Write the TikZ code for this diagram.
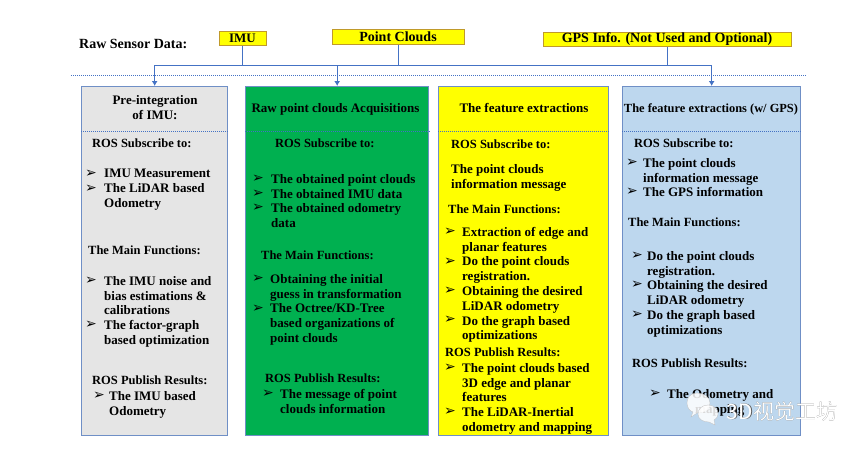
\documentclass[tikz,border=0pt]{standalone}
\usepackage{fontspec}
\usetikzlibrary{arrows.meta}
\setmainfont{Liberation Serif}
\newfontfamily\dingfont{DejaVu Sans}
\newfontfamily\cjk{Noto Sans CJK SC}
\definecolor{linkblue}{HTML}{4472C4}
\definecolor{paneledge}{HTML}{6F8FC6}
\definecolor{panelgray}{HTML}{E5E5E5}
\definecolor{panelgreen}{HTML}{00B050}
\definecolor{panelyellow}{HTML}{FFFF00}
\definecolor{panelblue}{HTML}{BDD7EE}
\definecolor{srcedge}{HTML}{C09A2A}
\tikzset{
  source/.style={draw=srcedge,fill=panelyellow,line width=1pt,inner sep=0pt,font=\bfseries\fontsize{14}{15}\selectfont},
  panel/.style={draw=paneledge,line width=1.3pt,anchor=north west,minimum height=349,inner sep=0pt},
  txt/.style={anchor=north west,align=left,inner sep=0pt,yshift=-1pt,font=\bfseries\fontsize{13}{14.8}\selectfont},
  head/.style={txt,font=\bfseries\fontsize{12.5}{14.8}\selectfont},
  title/.style={anchor=north,align=center,inner sep=0pt,font=\bfseries\fontsize{13}{15}\selectfont},
  arrowtip/.style={font=\dingfont\fontsize{14}{14}\selectfont,inner sep=0pt},
  link/.style={draw=linkblue,line width=1pt},
  divider/.style={draw=linkblue,line width=0.8pt,dash pattern=on 1pt off 1pt},
  markbubble/.style={fill=white,fill opacity=0.85,draw=gray!50,line width=0.3pt}
}
\begin{document}
\begin{tikzpicture}[x=1pt,y=-1pt]
  \useasboundingbox (0,0) rectangle (864,448);
  \node[txt,font=\bfseries\fontsize{14}{15}\selectfont] (rawdata) at (79,38.5) {Raw Sensor Data:};
  \node[source,font=\bfseries\fontsize{13}{15}\selectfont,minimum width=47,minimum height=14] (imu) at (242.5,38) {IMU};
  \node[source,minimum width=132,minimum height=15] (clouds) at (398,36.5) {Point Clouds};
  \node[source,minimum width=248,minimum height=14] (gps) at (667,39) {GPS Info. (Not Used and Optional)};
  \node[panel,fill=panelgray,minimum width=146] (preint) at (81,86) {};
  \node[panel,fill=panelgreen,minimum width=183] (acquis) at (245,86) {};
  \node[panel,fill=panelyellow,minimum width=170] (feature) at (438,86) {};
  \node[panel,fill=panelblue,minimum width=178] (featgps) at (622,86) {};
  \coordinate (sepl) at (71,75.5);
  \coordinate (sepr) at (806,75.5);
  \coordinate (bus) at (0,65);
  \coordinate (divy) at (0,131);
  \draw[divider] (sepl) -- (sepr);
  \draw[link,-{Latex[length=5pt,width=6pt]}] (imu.south) |- (preint.north |- bus) -- (preint.north);
  \draw[link,-{Latex[length=5pt,width=6pt]}] (clouds.south) |- (acquis.north |- bus) -- (acquis.north);
  \draw[link,-{Latex[length=5pt,width=6pt]}] (gps.south) |- (featgps.north |- bus) -- (featgps.north);
  \draw[link] (preint.north |- bus) -- (featgps.north |- bus);
  \draw[divider] (preint.west |- divy) -- (preint.east |- divy);
  \draw[divider] (acquis.west |- divy) -- (acquis.east |- divy);
  \draw[divider] (feature.west |- divy) -- (feature.east |- divy);
  \draw[divider] (featgps.west |- divy) -- (featgps.east |- divy);

  \node[title] (pretitle) at (155,95) {Pre-integration\\of IMU:};
  \node[head] (presub) at (92,138) {ROS Subscribe to:};
  \node[txt] (preitems) at (104,168) {IMU Measurement\\The LiDAR based\\Odometry};
  \node[head] (premain) at (88,245) {The Main Functions:};
  \node[txt] (prefuncs) at (104,275) {The IMU noise and\\bias estimations \&\\calibrations\\The factor-graph\\based optimization};
  \node[head] (prepub) at (92,375) {ROS Publish Results:};
  \node[txt] (preres) at (109,390) {The IMU based\\Odometry};
  \foreach \x/\y in {91/174,91/189,91/281,91/325,99/396}
    \node[arrowtip] (tipa\x\y) at (\x,\y) {➢};

  \node[title] (acqtitle) at (335.5,103) {Raw point clouds Acquisitions};
  \node[head] (acqsub) at (275,138) {ROS Subscribe to:};
  \node[txt] (acqitems) at (271,173) {The obtained point clouds\\The obtained IMU data\\The obtained odometry\\data};
  \node[head] (acqmain) at (261,250) {The Main Functions:};
  \node[txt] (acqfuncs) at (270,273) {Obtaining the initial\\guess in transformation\\The Octree/KD-Tree\\based organizations of\\point clouds};
  \node[head] (acqpub) at (265,373) {ROS Publish Results:};
  \node[txt] (acqres) at (280,388) {The message of point\\clouds information};
  \foreach \x/\y in {258/179,258/194,258/208,258/279,258/309,268/394}
    \node[arrowtip] (tipb\x\y) at (\x,\y) {➢};

  \node[title] (feattitle) at (524,103) {The feature extractions};
  \node[head] (featsub) at (451,139) {ROS Subscribe to:};
  \node[txt] (featmsg) at (451,163) {The point clouds\\information message};
  \node[head] (featmain) at (448,204) {The Main Functions:};
  \node[txt] (featfuncs) at (462,226) {Extraction of edge and\\planar features\\Do the point clouds\\registration.\\Obtaining the desired\\LiDAR odometry\\Do the graph based\\optimizations};
  \node[head] (featpub) at (445,347) {ROS Publish Results:};
  \node[txt] (featres) at (462,362) {The point clouds based\\3D edge and planar\\features\\The LiDAR-Inertial\\odometry and mapping};
  \foreach \x/\y in {450/232,450/262,450/291,450/320,450/368,450/412}
    \node[arrowtip] (tipc\x\y) at (\x,\y) {➢};

  \node[title,font=\bfseries\fontsize{12.4}{15}\selectfont] (gpstitle) at (711,104) {The feature extractions (w/ GPS)};
  \node[head] (gpssub) at (634,138) {ROS Subscribe to:};
  \node[txt] (gpsitems) at (643,157) {The point clouds\\information message\\The GPS information};
  \node[head] (gpsmain) at (628,217) {The Main Functions:};
  \node[txt] (gpsfuncs) at (647,250) {Do the point clouds\\registration.\\Obtaining the desired\\LiDAR odometry\\Do the graph based\\optimizations};
  \node[head] (gpspub) at (632,358) {ROS Publish Results:};
  \node[txt] (gpsres) at (667,388) {The Odometry and};
  \node[txt] (gpsmap) at (695,403) {mapping};
  \foreach \x/\y in {632/163,632/192,637/256,637/285,637/315,655/394}
    \node[arrowtip] (tipd\x\y) at (\x,\y) {➢};

  \draw[markbubble] (697,393) .. controls (690,393) and (687,398) .. (687,403) .. controls (687,408) and (690,411) .. (693,412) -- (691,417) -- (697,413) .. controls (705,413) and (710,409) .. (710,403) .. controls (710,397) and (704,393) .. (697,393) -- cycle;
  \draw[markbubble] (708,405) .. controls (702,405) and (698,409) .. (698,414) .. controls (698,419) and (703,422) .. (709,422) -- (715,425) -- (714,420) .. controls (717,418) and (718,416) .. (718,414) .. controls (718,409) and (714,405) .. (708,405) -- cycle;
  \node[text=gray!70!black,inner sep=0pt,font=\cjk\fontsize{21}{21}\selectfont] (markshade) at (782.6,411.6) {3D视觉工坊};
  \node[text=white,inner sep=0pt,font=\cjk\fontsize{21}{21}\selectfont] (mark) at (782,411) {3D视觉工坊};
\end{tikzpicture}
\end{document}
